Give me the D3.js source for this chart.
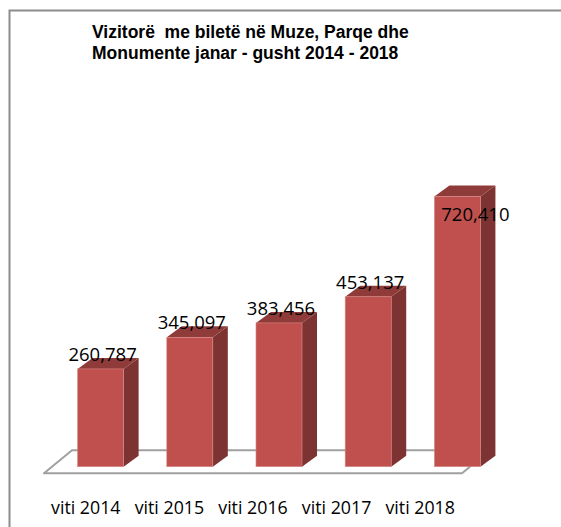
<!DOCTYPE html>
<html>
<head>
<meta charset="utf-8">
<script src="https://cdn.jsdelivr.net/npm/d3@7"></script>
<style>
  body { margin: 0; background: #fff; }
  svg { display: block; }
  text { white-space: pre; }
</style>
</head>
<body>
<svg width="561" height="527"></svg>
<script>
// data
const categories = ["viti 2014", "viti 2015", "viti 2016", "viti 2017", "viti 2018"];
const visitors = [260787, 345097, 383456, 453137, 720410];
const titleLines = ["Vizitorë  me biletë në Muze, Parqe dhe", "Monumente janar - gusht 2014 - 2018"];

const svg = d3.select("svg"),
    width = 561,
    height = 527;

const fmt = d3.format(",");
const font = "'Open Sans', 'Liberation Sans', sans-serif";

// outer chart frame (runs off the right/bottom of the crop)
svg.append("rect")
    .attr("x", 9.5).attr("y", 10.5)
    .attr("width", 600).attr("height", 600)
    .attr("fill", "#fff")
    .attr("stroke", "#8c8c8c")
    .attr("stroke-width", 2);

// title
svg.append("g").selectAll("text")
    .data(titleLines)
    .enter().append("text")
    .attr("x", 92)
    .attr("y", (d, i) => 37.5 + i * 21)
    .attr("font-family", "'Liberation Sans', Arial, sans-serif")
    .attr("font-weight", "bold")
    .attr("font-size", 17.5)
    .attr("fill", "#000")
    .text(d => d);

// 3D geometry
const floorFront = 473.3, floorDx = 28, floorDy = -23;
const barDx = 15, barDy = -11;
const baseY = 466.7;

const xFloor = d3.scaleBand().domain(categories).range([44, 462]);
const xBar = d3.scaleBand().domain(categories).range([56, 502])
    .paddingInner(0.484).paddingOuter(0.242);
const y = d3.scaleLinear().domain([0, 800000]).range([baseY, baseY - 300]);

// floor
const fl = xFloor.range();
svg.append("path")
    .attr("d", `M${fl[0]},${floorFront} L${fl[1]},${floorFront} L${fl[1] + floorDx},${floorFront + floorDy} L${fl[0] + floorDx},${floorFront + floorDy} Z`)
    .attr("fill", "#fff")
    .attr("stroke", "#a0a0a0")
    .attr("stroke-width", 2)
    .attr("stroke-linejoin", "round");

// bars
const bars = svg.append("g").selectAll("g")
    .data(categories)
    .enter().append("g");

bars.each(function(c, i) {
    const g = d3.select(this);
    const x0 = xBar(c), x1 = x0 + xBar.bandwidth();
    const yt = y(visitors[i]);
    // side face
    g.append("path")
        .attr("d", `M${x1},${baseY} L${x1 + barDx},${baseY + barDy} L${x1 + barDx},${yt + barDy} L${x1},${yt} Z`)
        .attr("fill", "#7d3331");
    // top face
    g.append("path")
        .attr("d", `M${x0},${yt} L${x0 + barDx},${yt + barDy} L${x1 + barDx},${yt + barDy} L${x1},${yt} Z`)
        .attr("fill", "#8f3b39");
    // front face
    g.append("rect")
        .attr("x", x0).attr("y", yt)
        .attr("width", x1 - x0).attr("height", baseY - yt)
        .attr("fill", "#c0504d")
        .attr("stroke", "#d88a88")
        .attr("stroke-width", 0.6);
});

// data labels: above the bar, inside it when the bar is near the top
const labelTop = y(650000);
const inside = i => y(visitors[i]) < labelTop;
svg.append("g").selectAll("text")
    .data(categories)
    .enter().append("text")
    .attr("x", (c, i) => xBar(c) + xBar.bandwidth() / 2 + (inside(i) ? barDx + 3 : 2))
    .attr("y", (c, i) => {
        const yt = y(visitors[i]);
        return inside(i) ? yt + 24 : yt - 8;
    })
    .attr("text-anchor", "middle")
    .attr("font-family", font)
    .attr("font-size", 18.5)
    .attr("fill", "#000")
    .text((c, i) => fmt(visitors[i]));

// category labels along the front floor edge
svg.append("g").selectAll("text")
    .data(categories)
    .enter().append("text")
    .attr("x", c => xFloor(c) + xFloor.bandwidth() / 2)
    .attr("y", 514)
    .attr("text-anchor", "middle")
    .attr("font-family", font)
    .attr("font-size", 17.8)
    .attr("fill", "#000")
    .text(d => d);
</script>
</body>
</html>
